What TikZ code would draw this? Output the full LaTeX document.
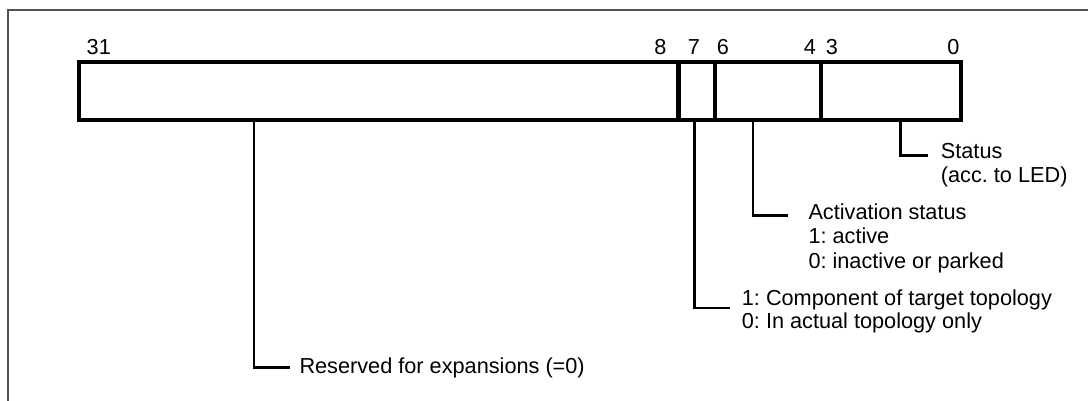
\documentclass[tikz,border=0pt]{standalone}
\usepackage{fontspec}
\setmainfont{Liberation Sans}
\usetikzlibrary{positioning,calc}
\frenchspacing

\begin{document}
\begin{tikzpicture}[
    x=1pt, y=-1pt,
    font=\fontsize{21.7}{24.5}\selectfont,
    frame/.style={draw=black!68, line width=2pt},
    field/.style={
        draw,
        line width=4.5pt,
        minimum height=58pt,
        inner sep=0pt,
        outer sep=0pt
    },
    bit/.style={anchor=base, inner sep=0pt},
    info/.style={anchor=base west, align=left, inner sep=0pt},
    lead/.style={line width=2.6pt}
]
\useasboundingbox (0,0) rectangle (1088,401);
\draw[frame] (7.7,401) -- (7.7,10) -- (1088,10);

\node[field, minimum width=599.7pt, anchor=north west] (res) at (79,62) {};
\node[field, minimum width=36.3pt, right=0pt of res] (b7) {};
\node[field, minimum width=106pt, right=0pt of b7] (act) {};
\node[field, minimum width=140pt, right=0pt of act] (stat) {};

\node[bit] (n31) at ([shift={(19.8,-7)}]res.north west) {31};
\node[bit] (n8) at ([shift={(-18.2,-7)}]res.north east) {8};
\node[bit] (n7) at ([shift={(-3,-7)}]b7.north) {7};
\node[bit] (n6) at ([shift={(7.8,-7)}]act.north west) {6};
\node[bit] (n4) at ([shift={(-11,-7)}]act.north east) {4};
\node[bit] (n3) at ([shift={(11,-7)}]stat.north west) {3};
\node[bit] (n0) at ([shift={(-7.7,-7)}]stat.north east) {0};

\node[info] (stattxt) at (940.7,182.5) {Status\\(acc. to LED)};
\node[info] (acttxt) at (808.3,268) {Activation status\\1: active\\0: inactive or parked};
\node[info, font=\fontsize{21.7}{23}\selectfont] (b7txt) at (741.7,328) {1: Component of target topology\\0: In actual topology only};
\node[info] (restxt) at (299.3,373) {Reserved for expansions (=0)};

\draw[lead] ([xshift=79.3pt]stat.south west) |- ([shift={(-12.4,-27.2)}]stattxt.base west);
\draw[lead] ([xshift=38pt]act.south west) |- ([shift={(-20,-52.7)}]acttxt.base west);
\draw[lead] ([xshift=-2.3pt]b7.south) |- ([shift={(-11.7,-20)}]b7txt.base west);
\draw[lead] ([xshift=175pt]res.south west) |- ([shift={(-9.3,-5.5)}]restxt.base west);
\end{tikzpicture}
\end{document}
